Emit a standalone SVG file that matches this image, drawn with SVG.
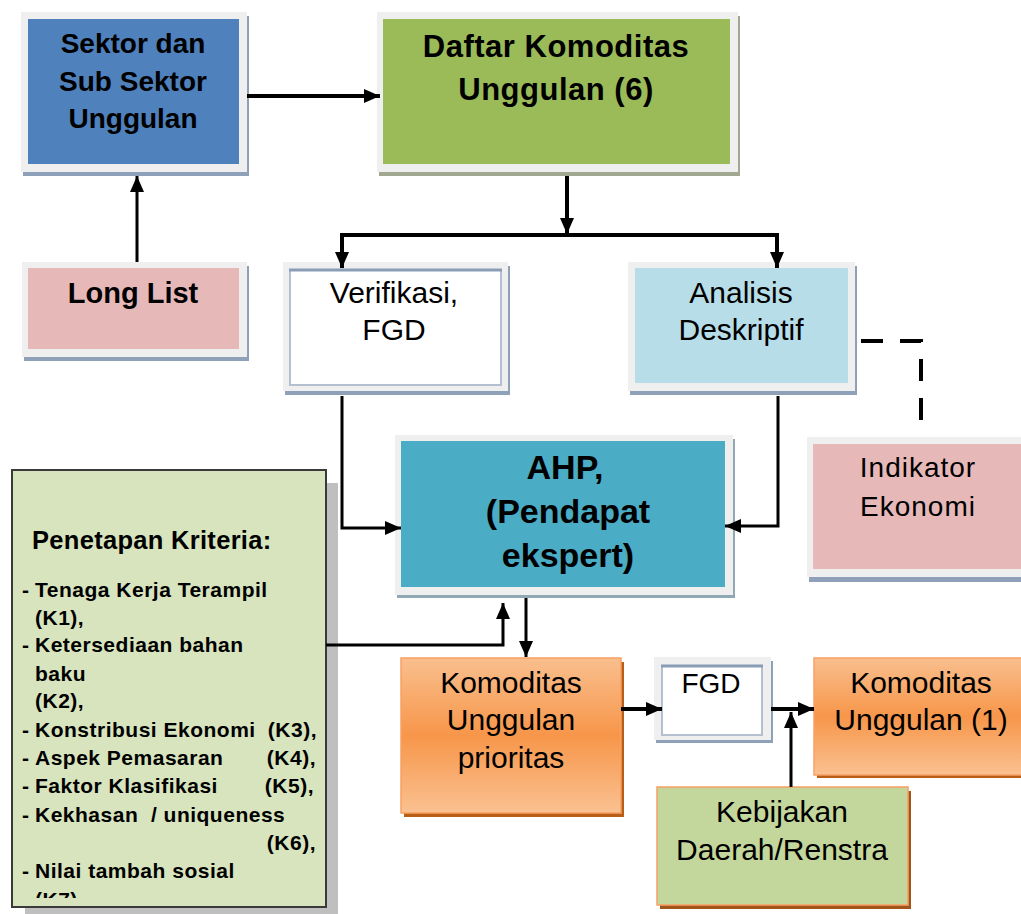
<svg xmlns="http://www.w3.org/2000/svg" width="1021" height="914" viewBox="0 0 1021 914">
<style>
  .frame { fill: #efefef; }
  .t { font-family: "Liberation Sans", Arial, sans-serif; fill: #000; text-anchor: middle; }
  .b { font-weight: bold; }
  .r30 { font-size: 30px; }
  .crit { font-family: "Liberation Sans", Arial, sans-serif; font-weight: bold; font-size: 21px; letter-spacing: 0.5px; fill: #000; }
  .title { font-size: 25.5px; letter-spacing: 0.3px; }
  .ln { fill: none; stroke: #000; stroke-width: 4; }
  .thin { stroke-width: 3; }
  .arr { marker-end: url(#ah); }
</style>
<defs>
  <marker id="ah" markerUnits="userSpaceOnUse" markerWidth="16" markerHeight="14" refX="16" refY="7" orient="auto">
    <path d="M0,0 L16,7 L0,14 z" fill="#000"/>
  </marker>
  <linearGradient id="orange" x1="0" y1="0" x2="0" y2="1">
    <stop offset="0" stop-color="#f9bf8e"/>
    <stop offset="0.5" stop-color="#f7964a"/>
    <stop offset="1" stop-color="#fac191"/>
  </linearGradient>
  <clipPath id="critclip"><rect x="13" y="471" width="312" height="427"/></clipPath>
</defs>
<rect x="0" y="0" width="1021" height="914" fill="#ffffff"/>

<g id="sektor">
  <rect x="23" y="16" width="226" height="160" fill="#8fa1b8"/>
  <rect class="frame" x="21" y="12" width="226" height="160"/>
  <rect x="28" y="19" width="211" height="145" fill="#4f81bd"/>
  <text class="t b" font-size="28" x="133" y="53">Sektor dan</text>
  <text class="t b" font-size="28" x="133" y="91">Sub Sektor</text>
  <text class="t b" font-size="28" x="133" y="128">Unggulan</text>
</g>

<g id="daftar">
  <rect x="379" y="16" width="361" height="160" fill="#a1a790"/>
  <rect class="frame" x="377" y="12" width="361" height="160"/>
  <rect x="383" y="19" width="347" height="145" fill="#9bbb59"/>
  <text class="t b" font-size="31" letter-spacing="0.5" x="556" y="57">Daftar Komoditas</text>
  <text class="t b" font-size="31" letter-spacing="0.5" x="556" y="100">Unggulan (6)</text>
</g>

<g id="longlist">
  <rect x="24" y="266" width="225" height="95" fill="#8fa1b8"/>
  <rect class="frame" x="22" y="262" width="225" height="95"/>
  <rect x="28" y="268" width="211" height="81" fill="#e6b9b8"/>
  <text class="t b" font-size="29" x="133" y="303">Long List</text>
</g>

<g id="verifikasi">
  <rect x="285" y="266" width="225" height="129" fill="#8fa1b8"/>
  <rect class="frame" x="283" y="262" width="225" height="129"/>
  <rect x="290" y="270" width="211" height="115" fill="#ffffff" stroke="#b4bfcf" stroke-width="2"/>
  <path d="M289,270 H502" stroke="#8a9cb6" stroke-width="3"/>
  <text class="t r30" x="394" y="303">Verifikasi,</text>
  <text class="t r30" x="394" y="340">FGD</text>
</g>

<g id="analisis">
  <rect x="630" y="266" width="227" height="129" fill="#8fa1b8"/>
  <rect class="frame" x="628" y="262" width="227" height="129"/>
  <rect x="635" y="268" width="213" height="115" fill="#b7dde8"/>
  <text class="t r30" x="741" y="303">Analisis</text>
  <text class="t r30" x="741" y="340">Deskriptif</text>
</g>

<g id="indikator">
  <rect x="809" y="441" width="220" height="141" fill="#8fa1b8"/>
  <rect class="frame" x="807" y="437" width="220" height="140"/>
  <rect x="813" y="444" width="215" height="125" fill="#e6b9b8"/>
  <text class="t" font-size="28" letter-spacing="1" x="918" y="477">Indikator</text>
  <text class="t" font-size="28" letter-spacing="1" x="918" y="516">Ekonomi</text>
</g>

<g id="ahp">
  <rect x="397" y="439" width="338" height="159" fill="#8fa8b3"/>
  <rect class="frame" x="395" y="435" width="338" height="160"/>
  <rect x="401" y="441" width="324" height="146" fill="#4bacc6"/>
  <text class="t b" font-size="34" x="565" y="479">AHP,</text>
  <text class="t b" font-size="34" x="568" y="523">(Pendapat</text>
  <text class="t b" font-size="34" x="568" y="567">ekspert)</text>
</g>

<g id="kriteria">
  <rect x="25" y="483" width="313" height="437" fill="#bfbfbf"/>
  <rect x="12" y="470" width="314" height="437" fill="#d7e4bd" stroke="#3a3a3a" stroke-width="2"/>
  <g clip-path="url(#critclip)">
    <text class="crit title" x="32" y="549">Penetapan Kriteria:</text>
    <text class="crit" x="22" y="597">-</text><text class="crit" x="35" y="597">Tenaga Kerja Terampil</text>
    <text class="crit" x="35" y="625">(K1),</text>
    <text class="crit" x="22" y="652">-</text><text class="crit" x="35" y="652">Ketersediaan bahan</text>
    <text class="crit" x="35" y="681">baku</text>
    <text class="crit" x="35" y="708">(K2),</text>
    <text class="crit" x="22" y="737">-</text><text class="crit" x="35" y="737">Konstribusi Ekonomi</text>
    <text class="crit" x="317" y="737" text-anchor="end">(K3),</text>
    <text class="crit" x="22" y="765">-</text><text class="crit" x="35" y="765">Aspek Pemasaran</text>
    <text class="crit" x="316" y="765" text-anchor="end">(K4),</text>
    <text class="crit" x="22" y="793">-</text><text class="crit" x="35" y="793">Faktor Klasifikasi</text>
    <text class="crit" x="314" y="793" text-anchor="end">(K5),</text>
    <text class="crit" x="22" y="822">-</text><text class="crit" x="35" y="822" xml:space="preserve">Kekhasan  / uniqueness</text>
    <text class="crit" x="316" y="850" text-anchor="end">(K6),</text>
    <text class="crit" x="22" y="878">-</text><text class="crit" x="35" y="878">Nilai tambah sosial</text>
    <text class="crit" x="35" y="907">(K7)</text>
  </g>
</g>

<g id="prioritas">
  <rect x="404" y="662" width="220" height="155" fill="#b85e16"/>
  <rect x="401" y="658" width="220" height="155" fill="url(#orange)" stroke="#f7a064" stroke-width="1.5"/>
  <text class="t r30" x="511" y="693">Komoditas</text>
  <text class="t r30" x="511" y="730">Unggulan</text>
  <text class="t r30" x="511" y="768">prioritas</text>
</g>

<g id="fgd">
  <rect x="656" y="661" width="117" height="82" fill="#8fa1b8"/>
  <rect class="frame" x="654" y="657" width="117" height="83"/>
  <rect x="662" y="666" width="100" height="69" fill="#ffffff" stroke="#b4bfcf" stroke-width="2"/>
  <path d="M661,666 H763" stroke="#8a9cb6" stroke-width="3"/>
  <text class="t" font-size="28" x="711" y="693">FGD</text>
</g>

<g id="unggulan1">
  <rect x="817" y="662" width="215" height="116" fill="#b85e16"/>
  <rect x="814" y="658" width="215" height="117" fill="url(#orange)" stroke="#f7a064" stroke-width="1.5"/>
  <text class="t r30" x="921" y="693">Komoditas</text>
  <text class="t r30" x="921" y="730">Unggulan (1)</text>
</g>

<g id="kebijakan">
  <rect x="660" y="791" width="251" height="118" fill="#a0561a"/>
  <rect x="657" y="787" width="251" height="118" fill="#c3d69b" stroke="#f7a064" stroke-width="1.5"/>
  <text class="t r30" x="782" y="822">Kebijakan</text>
  <text class="t r30" x="782" y="860">Daerah/Renstra</text>
</g>

<g id="connectors">
  <path class="ln arr" d="M247,96 H380"/>
  <path class="ln thin arr" d="M137,262 V176"/>
  <path class="ln arr" d="M567,176 V234"/>
  <path class="ln" d="M340,235 H779"/>
  <path class="ln arr" d="M342,235 V268"/>
  <path class="ln arr" d="M777,235 V268"/>
  <path class="ln thin arr" d="M342,396 V528 H401"/>
  <path class="ln thin arr" d="M778,396 V526 H725"/>
  <path d="M861,341 H921 V437" fill="none" stroke="#000" stroke-width="4" stroke-dasharray="22,17"/>
  <path class="ln thin arr" d="M326,645 H503 V603"/>
  <path class="ln thin arr" d="M526,598 V657"/>
  <path class="ln arr" d="M621,709 H662"/>
  <path class="ln arr" d="M771,709 H814"/>
  <path class="ln thin arr" d="M791,787 V712"/>
</g>
</svg>
